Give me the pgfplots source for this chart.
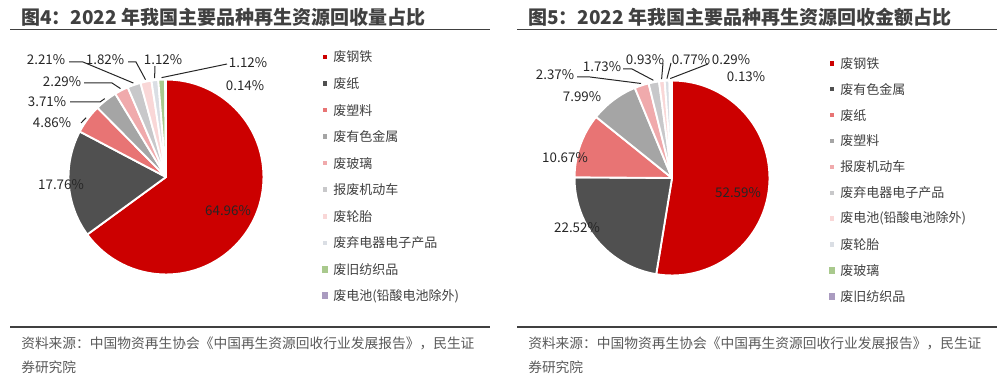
\documentclass[border=0pt]{standalone}
\usepackage{fontspec}
\setmainfont{Noto Sans CJK SC}
\usepackage{pgfplots}
\pgfplotsset{compat=1.18}
\usepackage{pgfplotstable}

\definecolor{c1}{RGB}{204,0,0}
\definecolor{c2}{RGB}{80,80,80}
\definecolor{c3}{RGB}{232,116,116}
\definecolor{c4}{RGB}{165,165,165}
\definecolor{c5}{RGB}{240,170,172}
\definecolor{c6}{RGB}{200,200,202}
\definecolor{c7}{RGB}{249,215,215}
\definecolor{c8}{RGB}{218,222,228}
\definecolor{c9}{RGB}{169,201,141}
\definecolor{c10}{RGB}{170,155,192}
\definecolor{titlec}{RGB}{64,64,64}
\definecolor{srcc}{RGB}{89,89,89}
\definecolor{labc}{RGB}{38,38,38}
\definecolor{legc}{RGB}{64,64,64}

\tikzset{
  lab/.style={inner sep=0pt, text=labc, font=\fontsize{10pt}{12pt}\selectfont},
  lead/.style={draw=labc, line width=0.75pt},
  ttl/.style={anchor=west, inner sep=0pt, text=titlec, font=\bfseries\fontsize{14.25pt}{16pt}\selectfont},
  src/.style={anchor=west, inner sep=0pt, text=srcc, font=\fontsize{10.3pt}{12pt}\selectfont}
}

% 2022 recovery volume shares (%)
\pgfplotstableread[col sep=comma]{
name,value,col
废钢铁,64.96,c1
废纸,17.76,c2
废塑料,4.86,c3
废有色金属,3.71,c4
废玻璃,2.29,c5
报废机动车,2.21,c6
废轮胎,1.82,c7
废弃电器电子产品,1.12,c8
废旧纺织品,1.12,c9
废电池(铅酸电池除外),0.14,c10
}\volumeshare

% 2022 recovery value shares (%)
\pgfplotstableread[col sep=comma]{
name,value,col
废钢铁,52.59,c1
废有色金属,22.52,c2
废纸,10.67,c3
废塑料,7.99,c4
报废机动车,2.37,c5
废弃电器电子产品,1.73,c6
废电池(铅酸电池除外),0.93,c7
废轮胎,0.77,c8
废玻璃,0.29,c9
废旧纺织品,0.13,c10
}\valueshare

\def\R{73.1pt}
\def\Rl{74.6pt}

% #1 table, #2 cx, #3 cy, #4 coord prefix, #5 legend x, #6 legend y0, #7 legend dy
\newcommand\drawpie[7]{%
  \pgfplotstablegetrowsof{#1}%
  \pgfmathtruncatemacro\nrows{\pgfplotsretval-1}%
  \gdef\cum{0}%
  \foreach \i in {0,...,\nrows}{%
    \pgfplotstablegetelem{\i}{value}\of{#1}\let\slval\pgfplotsretval
    \pgfplotstablegetelem{\i}{col}\of{#1}\let\slcol\pgfplotsretval
    \pgfplotstablegetelem{\i}{name}\of{#1}\let\slname\pgfplotsretval
    \pgfmathsetmacro\sa{90-3.6*\cum}%
    \pgfmathsetmacro\sb{90-3.6*(\cum+\slval)}%
    \pgfmathsetmacro\sm{(\sa+\sb)/2}%
    \fill[fill=\slcol, draw=white, line width=1.4pt, line join=round]
      (axis cs:#2,#3) -- ++(\sa:\R) arc[start angle=\sa, end angle=\sb, radius=\R] -- cycle;
    \path (axis cs:#2,#3) ++(\sm:\Rl) coordinate (#4\i);
    \pgfmathsetmacro\ly{#6+#7*\i}%
    \pgfmathsetmacro\lx{#5+8}%
    \pgfmathsetmacro\sq{\i>7 ? 2.6 : 1.7}%
    \fill[fill=\slcol] (axis cs:#5,\ly) ++({-\sq pt},{-\sq pt}) rectangle ++({2*\sq pt},{2*\sq pt});
    \node[anchor=west, inner sep=0pt, text=legc, font=\fontsize{9.75pt}{11pt}\selectfont]
      at (axis cs:\lx,\ly) {\slname};
    \pgfmathsetmacro\cumnew{\cum+\slval}\global\let\cum\cumnew
  }%
}

\begin{document}
\begin{tikzpicture}
\path[use as bounding box] (0,0) rectangle (751.5pt,282.75pt);
\begin{axis}[at={(0,0)}, anchor=south west, scale only axis,
  width=751.5pt, height=282.75pt,
  xmin=0, xmax=1002, ymin=0, ymax=377, y dir=reverse,
  hide axis, clip=false]

\pgfplotsextra{%
  \drawpie{\volumeshare}{166}{177}{A}{325}{57}{26.55}%
  \drawpie{\valueshare}{672}{178}{B}{832}{63.3}{25.9}%
}

% titles and rules
\node[ttl] at (axis cs:21,17) {图4：2022 年我国主要品种再生资源回收量占比};
\node[ttl] at (axis cs:528,17) {图5：2022 年我国主要品种再生资源回收金额占比};
\draw[titlec, line width=0.9pt] (axis cs:10,29.5) -- (axis cs:490,29.5);
\draw[titlec, line width=0.9pt] (axis cs:517,29.5) -- (axis cs:997,29.5);
\draw[titlec, line width=0.9pt] (axis cs:10,327) -- (axis cs:490,327);
\draw[titlec, line width=0.9pt] (axis cs:517,327) -- (axis cs:997,327);
\node[src] at (axis cs:21,343) {资料来源：中国物资再生协会《中国再生资源回收行业发展报告》，民生证};
\node[src] at (axis cs:21,367) {券研究院};
\node[src] at (axis cs:528,343) {资料来源：中国物资再生协会《中国再生资源回收行业发展报告》，民生证};
\node[src] at (axis cs:528,367) {券研究院};

% left pie labels
\node[lab] at (axis cs:228,211) {64.96\%};
\node[lab] at (axis cs:61,185) {17.76\%};
\node[lab] at (axis cs:52,123) {4.86\%};
\node[lab] at (axis cs:47,102) {3.71\%};
\node[lab] at (axis cs:62,82) {2.29\%};
\node[lab] at (axis cs:46,60) {2.21\%};
\node[lab] at (axis cs:105,60) {1.82\%};
\node[lab] at (axis cs:163,60) {1.12\%};
\node[lab] at (axis cs:248,63) {1.12\%};
\node[lab] at (axis cs:245,86) {0.14\%};
\draw[lead] (A2) -- (axis cs:81,123);
\draw[lead] (A3) -- (axis cs:100,102) -- (axis cs:70,102);
\draw[lead] (A4) -- (axis cs:112,83) -- (axis cs:84,83);
\draw[lead] (A5) -- (axis cs:83,62) -- (axis cs:69,62);
\draw[lead] (A6) -- (axis cs:136,62) -- (axis cs:128,62);
\draw[lead] (A7) -- (axis cs:155,66);
\draw[lead] (A8) -- (axis cs:227,64);

% right pie labels
\node[lab] at (axis cs:738,193) {52.59\%};
\node[lab] at (axis cs:577,228) {22.52\%};
\node[lab] at (axis cs:565,158) {10.67\%};
\node[lab] at (axis cs:582,97) {7.99\%};
\node[lab] at (axis cs:555,75) {2.37\%};
\node[lab] at (axis cs:602,67) {1.73\%};
\node[lab] at (axis cs:645,60) {0.93\%};
\node[lab] at (axis cs:691,60) {0.77\%};
\node[lab] at (axis cs:731,60) {0.29\%};
\node[lab] at (axis cs:746,77) {0.13\%};
\draw[lead] (B4) -- (axis cs:590,77) -- (axis cs:577,77);
\draw[lead] (B5) -- (axis cs:632,69) -- (axis cs:623,69);
\draw[lead] (B6) -- (axis cs:663,63);
\draw[lead] (B7) -- (axis cs:671,63);
\draw[lead] (B8) -- (axis cs:708,64);
\end{axis}
\end{tikzpicture}
\end{document}
